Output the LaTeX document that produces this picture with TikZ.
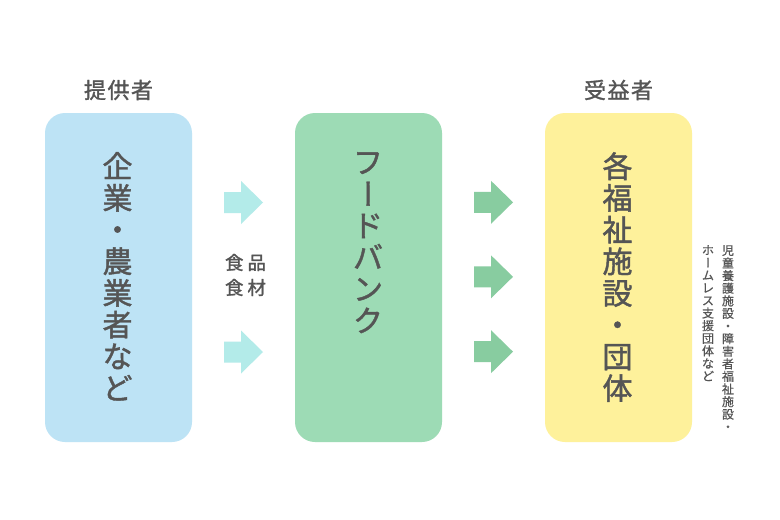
\documentclass[tikz,border=0pt]{standalone}
\usepackage{fontspec}
\usepackage{graphicx}
\setmainfont{Noto Sans CJK JP}
\newfontfamily\medfont{Noto Sans CJK JP}[FakeBold=1.4]
\newfontfamily\smallmedfont{Noto Sans CJK JP}[FakeBold=0.6]
\definecolor{txtgray}{HTML}{555555}
\definecolor{boxblue}{HTML}{BDE3F5}
\definecolor{boxgreen}{HTML}{9DDBB5}
\definecolor{boxyellow}{HTML}{FEF19B}
\definecolor{arrcyan}{HTML}{B3EBE9}
\definecolor{arrgreen}{HTML}{88CCA0}
\newcommand\tatebar{\rotatebox[origin=c]{-90}{\raisebox{0pt}[0.88em][0.12em]{ー}}}
\tikzset{
  blockarrow/.pic={\fill (-19.5,-10.5) -- (-2.5,-10.5) -- (-2.5,-21.5) -- (19.5,0) -- (-2.5,21.5) -- (-2.5,10.5) -- (-19.5,10.5) -- cycle;}
}
\begin{document}
\begin{tikzpicture}[x=1pt,y=-1pt,
  stage/.style={rounded corners=20pt, minimum width=147pt, minimum height=329pt, inner sep=0pt, draw=none},
  bigtate/.style={anchor=north, align=center, inner sep=0pt, text=txtgray, font=\medfont\fontsize{30}{31.7}\selectfont},
  smalltate/.style={anchor=north, align=center, inner sep=0pt, text=txtgray, font=\smallmedfont\fontsize{12}{12.6}\selectfont},
  header/.style={text=txtgray, inner sep=0pt, font=\medfont\fontsize{22}{26}\selectfont}]
\useasboundingbox (0,0) rectangle (780,520);
\fill[white] (0,0) rectangle (780,520);
% stage boxes
\node[stage, fill=boxblue] (prov) at (118.5,277.5) {};
\node[stage, fill=boxgreen] (fb) at (368.5,277.5) {};
\node[stage, fill=boxyellow] (recv) at (618.5,277.5) {};
% headers
\node[header] (provh) at (118.5,90) {提\kern1.5pt 供\kern1.5pt 者};
\node[header] (recvh) at (618.5,90) {受\kern1.5pt 益\kern1.5pt 者};
% vertical texts
\node[bigtate] (provt) at (117.5,152) {企\\業\\・\\農\\業\\者\\な\\ど};
\node[bigtate] (fbt) at (368,152) {フ\\\tatebar\\ド\\バ\\ン\\ク};
\node[bigtate] (recvt) at (617.5,152) {各\\福\\祉\\施\\設\\・\\団\\体};
% goods label
\node[text=txtgray, align=center, inner sep=0pt, font=\medfont\fontsize{18.5}{25}\selectfont] (goods) at (245.5,275) {食\kern4pt 品\\食\kern4pt 材};
% arrows
\pic[fill=arrcyan] (ca1) at (243.5,202.5) {blockarrow};
\pic[fill=arrcyan] (ca2) at (243.5,352) {blockarrow};
\pic[fill=arrgreen] (ga1) at (493.5,202.3) {blockarrow};
\pic[fill=arrgreen] (ga2) at (493.5,276.8) {blockarrow};
\pic[fill=arrgreen] (ga3) at (493.5,351.7) {blockarrow};
% side note
\node[smalltate] (note1) at (728,245) {児\\童\\養\\護\\施\\設\\・\\障\\害\\者\\福\\祉\\施\\設\\・};
\node[smalltate] (note2) at (708,245) {ホ\\\tatebar\\ム\\レ\\ス\\支\\援\\団\\体\\な\\ど};
\end{tikzpicture}
\end{document}
